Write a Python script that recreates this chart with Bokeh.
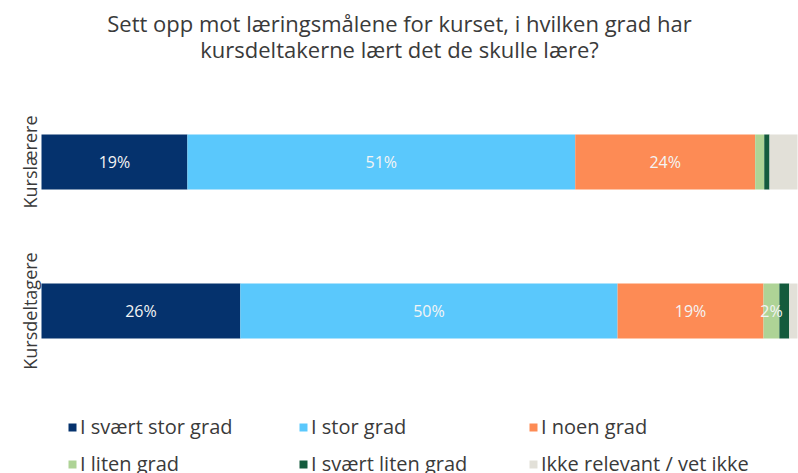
import numpy as np
from bokeh.plotting import figure
from bokeh.models import Range1d, Label, Legend, LegendItem, ColumnDataSource
from bokeh.core.properties import value
from bokeh.embed import file_html
from bokeh.resources import INLINE

categories = ["Kurslærere", "Kursdeltagere"]
series_names = ["I svært stor grad", "I stor grad", "I noen grad",
                "I liten grad", "I svært liten grad", "Ikke relevant / vet ikke"]
svaert_stor = [19.3, 26.3]
stor = [51.3, 49.9]
noen = [23.8, 19.3]
liten = [1.2, 2.1]
svaert_liten = [0.7, 1.3]
ikke_relevant = [3.7, 1.1]
title_lines = ["Sett opp mot læringsmålene for kurset, i hvilken grad har",
               "kursdeltakerne lært det de skulle lære?"]

colors = ["#05326d", "#5ac8fc", "#fd8b55", "#aed396", "#145b3d", "#e2e0d8"]
FONT = "Open Sans"
TXT = "#3a3a3a"

keys = ["s1", "s2", "s3", "s4", "s5", "s6"]
ypos = [1, 0]
data = dict(y=ypos, cat=categories, s1=svaert_stor, s2=stor, s3=noen,
            s4=liten, s5=svaert_liten, s6=ikke_relevant)
source = ColumnDataSource(data)

W, H = 798, 473
p = figure(width=W, height=H, output_backend="svg", toolbar_location=None,
           x_range=Range1d(-5.423, 100.132), y_range=Range1d(-1.0906, 2.0839),
           x_axis_location=None, y_axis_location=None, min_border=0)
p.grid.visible = False
p.outline_line_color = None

renderers = p.hbar_stack(keys, y="y", height=0.369, color=colors, source=source,
                         line_color=None)

# bar labels
vals = np.array([svaert_stor, stor, noen, liten, svaert_liten, ikke_relevant])
cum = np.cumsum(vals, axis=0)
lx, ly, lt = [], [], []
for i in range(vals.shape[0] - 1):
    for j in range(vals.shape[1]):
        v = vals[i, j]
        if v >= 2:
            lx.append(cum[i, j] - v / 2)
            ly.append(ypos[j])
            lt.append(f"{round(v)}%")
p.text(x=lx, y=ly, text=lt, text_align="center", text_baseline="middle",
       text_font=value(FONT), text_font_size="16px", text_color="#f4f4f4")

# category labels
for c, y in zip(categories, ypos):
    p.add_layout(Label(x=29, x_units="screen", y=y, text=c, angle=np.pi / 2,
                       text_align="center", text_baseline="middle",
                       text_font=FONT, text_font_size="18px", text_color=TXT))

# title
for k, t in enumerate(title_lines):
    p.add_layout(Label(x=399, x_units="screen", y=451 - 26 * k, y_units="screen",
                       text=t, text_align="center", text_baseline="middle",
                       text_font=FONT, text_font_size="22px", text_color=TXT))

# legend: three columns of two items each
col_x = [67, 298, 528]
for c in range(3):
    items = [LegendItem(label=series_names[c + 3 * r], renderers=[renderers[c + 3 * r]])
             for r in range(2)]
    lg = Legend(items=items, orientation="vertical", location=(col_x[c], -4),
                glyph_width=10, glyph_height=10, label_standoff=3,
                label_height=24, spacing=10, padding=0, margin=0,
                border_line_alpha=0, background_fill_alpha=0,
                label_text_font=FONT, label_text_font_size="20px",
                label_text_color=TXT)
    p.add_layout(lg)

open("out.html", "w").write(file_html(p, INLINE))
